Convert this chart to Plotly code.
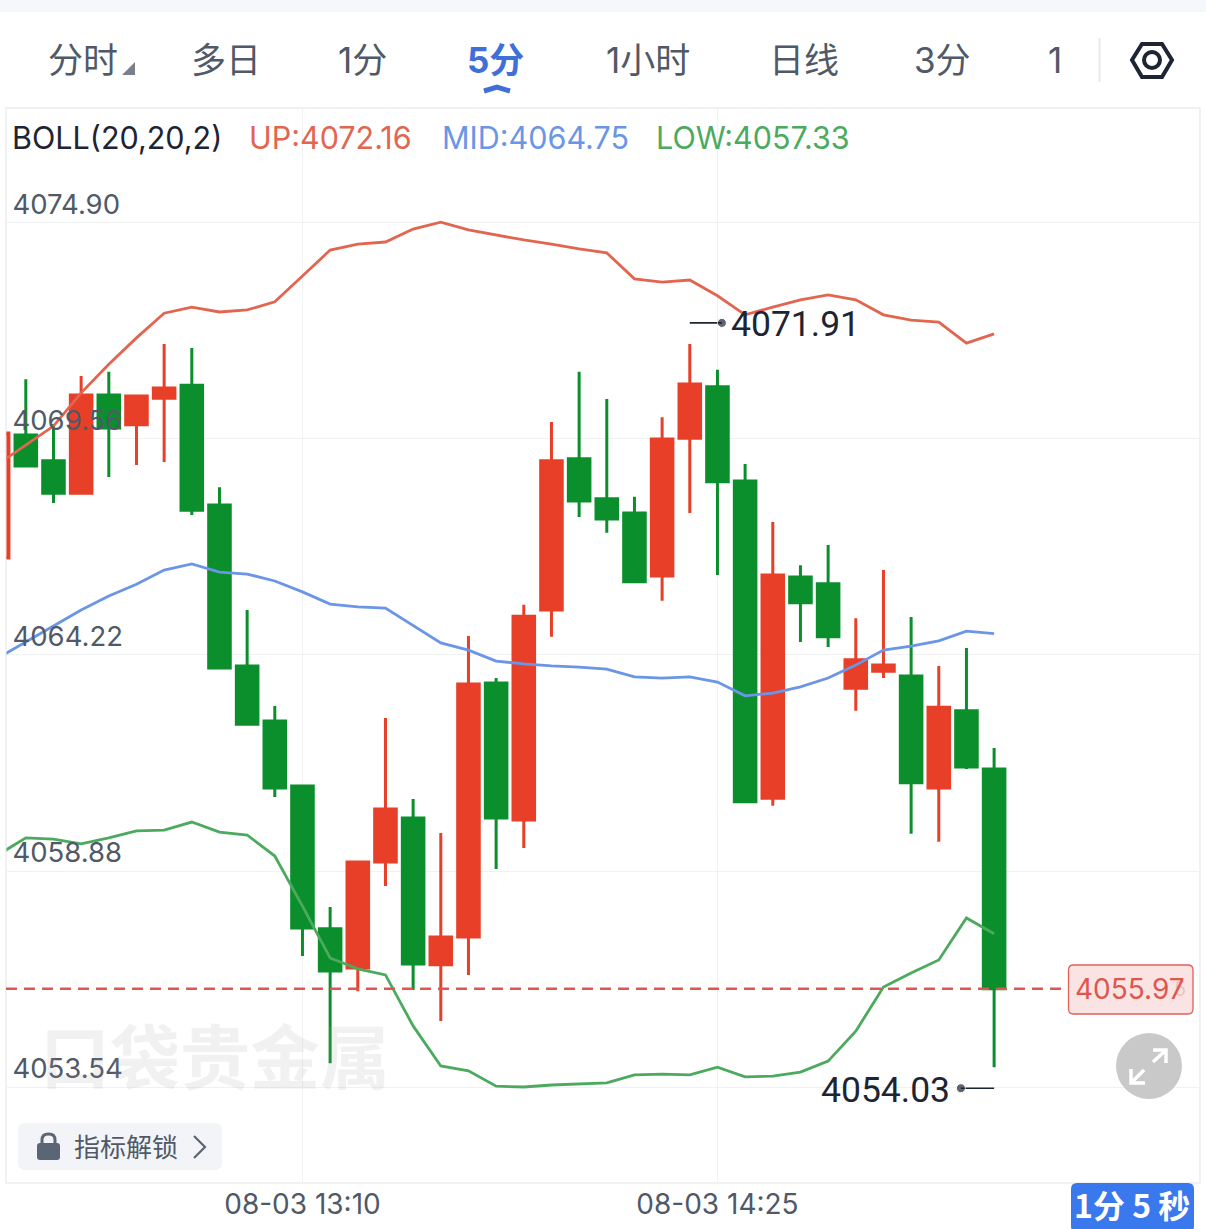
import plotly.graph_objects as go

W, H = 1206, 1229
candle_index = list(range(-1, 36))
opens = [4066.62,4069.66,4069.02,4068.22,4070.65,4069.91,4070.57,4070.89,4067.93,4063.95,4062.59,4060.98,4057.45,4056.48,4059.10,4060.19,4056.56,4057.25,4063.53,4060.14,4065.33,4069.07,4068.08,4067.73,4066.17,4069.58,4070.85,4068.52,4060.68,4066.15,4065.98,4063.40,4063.82,4063.70,4060.93,4062.84,4061.40]
highs = [4069.71,4071.04,4069.93,4071.12,4071.22,4070.62,4071.91,4071.81,4068.37,4065.33,4062.96,4060.98,4057.99,4059.10,4062.66,4060.66,4059.82,4064.69,4063.65,4065.46,4069.98,4071.22,4070.55,4068.13,4070.10,4071.91,4071.27,4068.94,4067.51,4066.44,4066.94,4065.13,4066.32,4065.16,4063.95,4064.39,4061.92]
lows = [4066.62,4068.89,4067.98,4068.22,4068.62,4068.92,4068.99,4067.68,4063.90,4062.49,4060.71,4056.78,4054.13,4055.91,4058.51,4055.94,4055.17,4056.31,4058.93,4059.45,4064.67,4067.63,4067.24,4066.03,4065.56,4067.73,4066.20,4060.59,4060.49,4064.54,4064.42,4062.84,4063.65,4059.80,4059.60,4061.40,4054.03]
closes = [4069.71,4068.89,4068.22,4070.65,4069.83,4070.62,4070.82,4067.80,4063.90,4062.51,4060.93,4057.47,4056.41,4059.10,4060.41,4056.58,4057.25,4063.50,4060.19,4065.18,4069.02,4068.03,4067.58,4066.03,4069.56,4070.92,4068.50,4060.59,4066.20,4065.51,4064.67,4064.10,4063.97,4061.06,4062.93,4061.45,4055.97]
boll_up = [4068.94,4069.41,4069.88,4070.70,4071.41,4072.06,4072.67,4072.82,4072.70,4072.75,4072.95,4073.59,4074.23,4074.38,4074.43,4074.75,4074.92,4074.73,4074.60,4074.48,4074.38,4074.26,4074.16,4073.52,4073.44,4073.49,4073.10,4072.63,4072.82,4073.00,4073.12,4073.00,4072.63,4072.50,4072.45,4071.93,4072.16]
boll_mid = [4064.15,4064.54,4064.94,4065.33,4065.68,4065.97,4066.32,4066.47,4066.27,4066.22,4066.05,4065.78,4065.48,4065.41,4065.38,4064.94,4064.52,4064.34,4064.07,4064.00,4063.95,4063.92,4063.87,4063.68,4063.65,4063.68,4063.55,4063.21,4063.28,4063.43,4063.65,4063.97,4064.34,4064.44,4064.57,4064.81,4064.75]
boll_low = [4059.28,4059.70,4059.67,4059.55,4059.70,4059.87,4059.89,4060.09,4059.84,4059.77,4059.25,4058.01,4056.73,4056.46,4056.31,4055.05,4054.06,4053.94,4053.56,4053.54,4053.59,4053.61,4053.64,4053.84,4053.86,4053.84,4054.03,4053.79,4053.81,4053.91,4054.18,4054.92,4056.01,4056.36,4056.68,4057.72,4057.33]
y_ticks = [4074.90, 4069.56, 4064.22, 4058.88, 4053.54]
x_tick_index = [10, 25]
x_tick_labels = ["08-03 13:10", "08-03 14:25"]
tabs = ["分时", "多日", "1分", "5分", "1小时", "日线", "3分", "1"]
high_value, high_index = 4071.91, 24
low_value, low_index = 4054.03, 35
last_price = 4055.97

RED, GREEN = "#E73F28", "#0B8F2C"
C_UP, C_MID, C_LOW = "#E2664F", "#6B95E6", "#4BAA5E"
TXT, DARK, BLUE = "#4F5967", "#1D2433", "#3F70DA"
FONT = "Inter, 'Noto Sans CJK SC', sans-serif"
BIG = "Roboto, sans-serif"
CJK = "'Noto Sans CJK SC', sans-serif"

px = lambda x: x / W
py = lambda y: 1 - y / H
def path(pts, close=False):
    s = "M" + " L".join(f"{px(a):.5f},{py(b):.5f}" for a, b in pts)
    return s + (" Z" if close else "")
def rrect(x0, y0, x1, y1, r):
    p = lambda a, b: f"{px(a):.5f},{py(b):.5f}"
    return (f"M{p(x0+r,y0)} L{p(x1-r,y0)} Q{p(x1,y0)} {p(x1,y0+r)} L{p(x1,y1-r)} Q{p(x1,y1)} {p(x1-r,y1)} "
            f"L{p(x0+r,y1)} Q{p(x0,y1)} {p(x0,y1-r)} L{p(x0,y0+r)} Q{p(x0,y0)} {p(x0+r,y0)} Z")
def pshape(d, fill=None, line=None, lw=0, layer="above"):
    return dict(type="path", xref="paper", yref="paper", path=d, layer=layer,
                fillcolor=fill if fill else "rgba(0,0,0,0)",
                line=dict(color=line if line else "rgba(0,0,0,0)", width=lw))
def note(text, x, y, size, color, anchor="left", family=FONT, bold=False):
    return dict(text=f"<b>{text}</b>" if bold else text, x=px(x), y=py(y), xref="paper", yref="paper",
                xanchor=anchor, yanchor="middle", showarrow=False,
                font=dict(size=size, color=color, family=family))

fig = go.Figure()
fig.add_trace(go.Candlestick(
    x=candle_index, open=opens, high=highs, low=lows, close=closes,
    increasing=dict(line=dict(color=RED, width=3), fillcolor=RED),
    decreasing=dict(line=dict(color=GREEN, width=3), fillcolor=GREEN),
    whiskerwidth=0, hoverinfo="skip", showlegend=False))
for vals, col in ((boll_up, C_UP), (boll_mid, C_MID), (boll_low, C_LOW)):
    fig.add_trace(go.Scatter(x=candle_index, y=vals, mode="lines", line=dict(color=col, width=2.8),
                             hoverinfo="skip", showlegend=False))
fig.add_trace(go.Scatter(x=[high_index, high_index + 1.16], y=[high_value + 0.52] * 2, mode="lines+markers",
                         line=dict(color=DARK, width=1.6), marker=dict(size=[0, 9], color=DARK),
                         hoverinfo="skip", showlegend=False))
fig.add_trace(go.Scatter(x=[low_index, low_index - 1.2], y=[low_value - 0.52] * 2, mode="lines+markers",
                         line=dict(color=DARK, width=1.6), marker=dict(size=[0, 9], color=DARK),
                         hoverinfo="skip", showlegend=False))

shapes = [
    pshape(path([(0, 0), (W, 0), (W, 12), (0, 12)], True), fill="#F5F7FA", layer="below"),
    dict(type="rect", xref="paper", yref="paper", x0=px(6), x1=px(1200), y0=py(108), y1=py(1183),
         line=dict(color="#EBEDF0", width=1.5), layer="below"),
    pshape(path([(122, 75), (135, 75), (135, 62)], True), fill="#7A808A"),
    pshape(path([(484, 91), (497, 87), (510, 91)]), line=BLUE, lw=5),
    pshape(path([(1099.5, 38), (1099.5, 82)]), line="#E9EAEC", lw=2),
    pshape(path([(1142, 44), (1162, 44), (1172, 60), (1162, 77), (1142, 77), (1132, 60)], True), line=DARK, lw=4),
    dict(type="circle", xref="paper", yref="paper", x0=px(1144), x1=px(1160), y0=py(52), y1=py(68),
         line=dict(color=DARK, width=4)),
    pshape(rrect(18, 1123, 222, 1170, 7), fill="#F2F4F7"),
    pshape(rrect(37, 1143, 60, 1160, 3), fill="#5A6675"),
    pshape("M" + f"{px(42):.5f},{py(1143):.5f} L{px(42):.5f},{py(1140):.5f} Q{px(42):.5f},{py(1134):.5f} {px(48.5):.5f},{py(1134):.5f} "
           f"Q{px(55):.5f},{py(1134):.5f} {px(55):.5f},{py(1140):.5f} L{px(55):.5f},{py(1143):.5f}", line="#5A6675", lw=3),
    pshape(path([(194, 1136), (205, 1147), (194, 1158)]), line="#5A6675", lw=2.2),
    dict(type="line", xref="paper", yref="y", x0=px(6), x1=px(1062), y0=last_price, y1=last_price,
         line=dict(color="#DB5750", width=2.4, dash="11px,7px")),
    pshape(rrect(1068.5, 965, 1193, 1014, 5), fill="#FAE3E3", line="#E0605A", lw=1.3),
    dict(type="circle", xref="paper", yref="paper", x0=px(1116), x1=px(1182), y0=py(1033), y1=py(1099),
         fillcolor="#C9C9C9", line=dict(width=0)),
    pshape(path([(1153, 1062), (1165, 1051)]), line="white", lw=3.5),
    pshape(path([(1153, 1050), (1166, 1050), (1166, 1063)]), line="white", lw=3.5),
    pshape(path([(1144, 1070), (1132, 1082)]), line="white", lw=3.5),
    pshape(path([(1131, 1069), (1131, 1083), (1145, 1083)]), line="white", lw=3.5),
    pshape(rrect(1071, 1183, 1194, 1232, 6), fill="#3A78EE"),
]

tab_x = [83, 225.5, 362.5, 495.5, 647.5, 803.5, 942.5, 1055]
annotations = [
    note("口袋贵金属", 215, 1053, 70, "rgba(160,160,165,0.15)", "center", CJK, True),
]
for t, x in zip(tabs, tab_x):
    active = t == "5分"
    annotations.append(note(t, x, 60, 35, BLUE if active else TXT, "center", FONT, active))
annotations += [
    note("BOLL(20,20,2)", 10, 138, 30.5, DARK),
    note(f"UP:{boll_up[-1]:.2f}", 247, 138, 30.5, C_UP),
    note(f"MID:{boll_mid[-1]:.2f}", 440, 138, 30.5, C_MID),
    note(f"LOW:{boll_low[-1]:.2f}", 654, 138, 30.5, C_LOW),
    note(f"{high_value:.2f}", 729, 324, 35.5, DARK, "left", BIG),
    note(f"{low_value:.2f}", 819, 1090, 35.5, DARK, "left", BIG),
    note("5", 1180, 989, 20, "rgba(220,87,80,0.25)", "center"),
    note(f"{last_price:.2f}", 1130, 989, 28, "#DC5750", "center"),
    note("指标解锁", 126, 1145, 26, TXT, "center", CJK),
    note("1分 5 秒", 1132, 1204, 32, "white", "center", CJK, True),
]

fig.update_layout(
    width=W, height=H, margin=dict(l=0, r=0, t=0, b=0), paper_bgcolor="white", plot_bgcolor="white",
    showlegend=False, boxgap=0.22, boxgroupgap=0, shapes=shapes, annotations=annotations,
    xaxis=dict(domain=[px(6.5), px(1200.5)], range=[-0.698, 42.46], type="linear", rangeslider=dict(visible=False),
               tickmode="array", tickvals=x_tick_index, ticktext=x_tick_labels, ticks="",
               tickfont=dict(size=28, color=TXT, family=FONT), showgrid=True, gridcolor="#F0F1F3", gridwidth=1,
               zeroline=False, showline=False, ticklabelstandoff=1),
    yaxis=dict(domain=[py(1184), py(109)], range=[4051.142, 4077.718], tickmode="array", tickvals=y_ticks,
               ticktext=[f"{v:.2f}" for v in y_ticks], ticks="", ticklabelposition="inside",
               tickfont=dict(size=27.5, color=TXT, family=FONT), ticklabelshift=-19, ticklabelstandoff=3,
               showgrid=True, gridcolor="#F0F1F3", gridwidth=1, zeroline=False, showline=False),
)
fig.write_html("out.html", config=dict(displayModeBar=False),
               post_script="document.body.style.margin='0';document.body.style.overflow='hidden';")
